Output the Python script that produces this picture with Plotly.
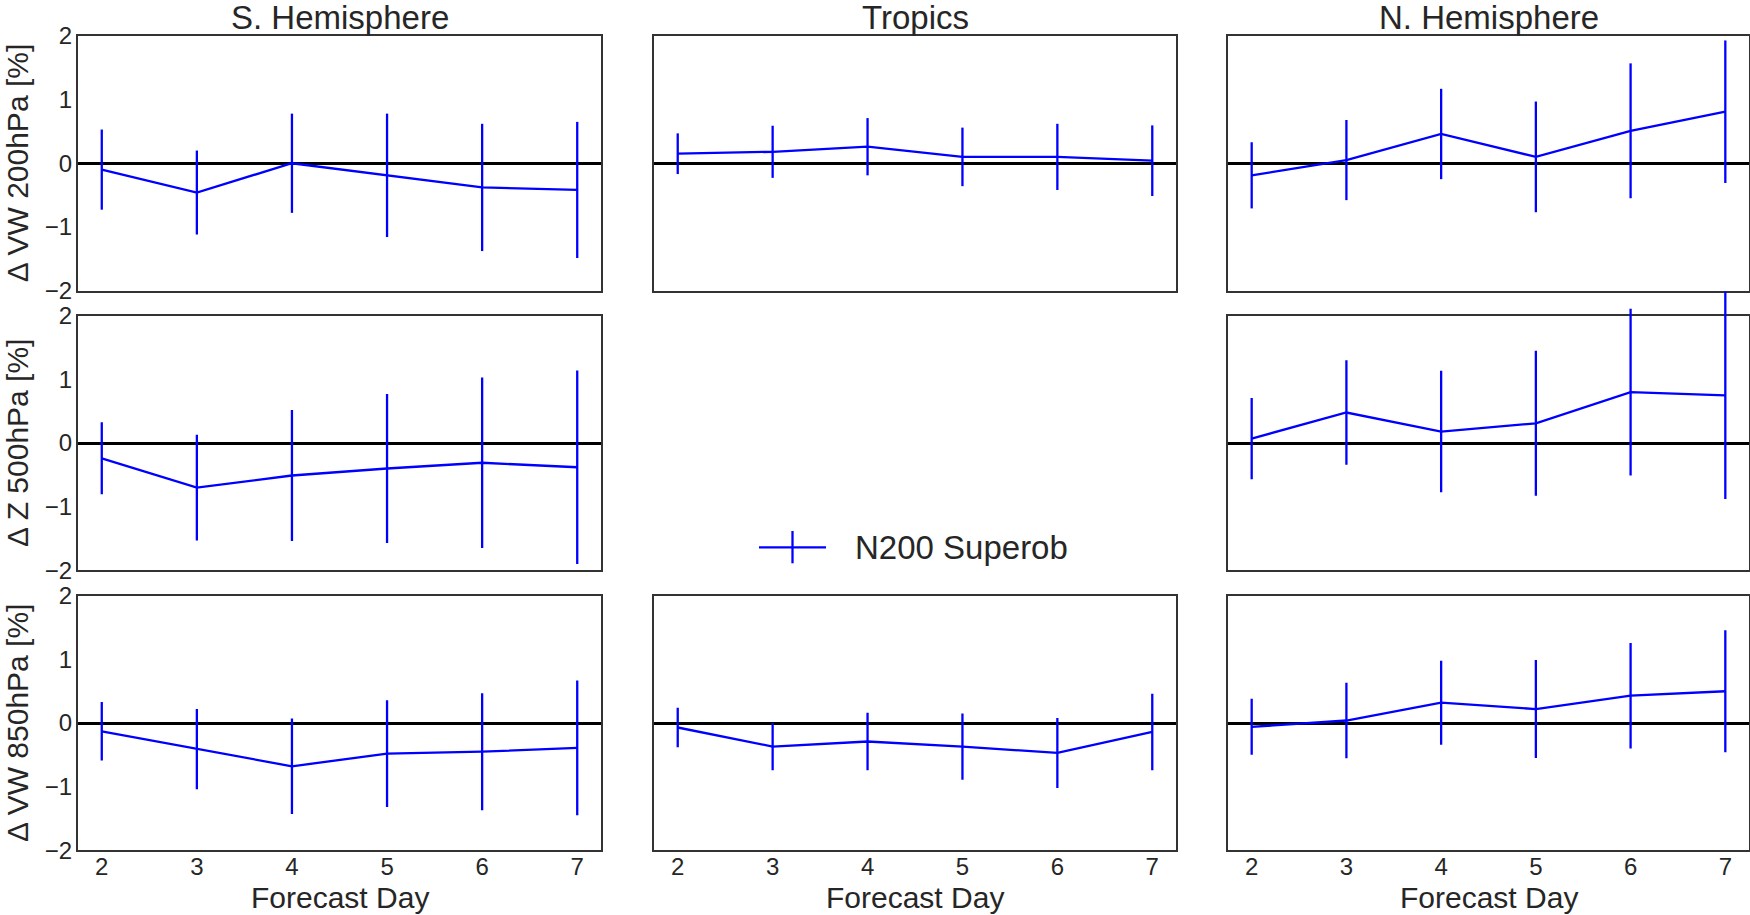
import plotly.graph_objects as go

# Forecast days on the x axis
days = [2, 3, 4, 5, 6, 7]
day_ticks = [2, 3, 4, 5, 6, 7]
pct_ticks = [-2, -1, 0, 1, 2]

# Relative change [%] and its uncertainty, per region and level
vw200_sh = [-0.10, -0.46, 0.00, -0.19, -0.38, -0.42]
vw200_sh_err = [0.63, 0.66, 0.78, 0.97, 1.00, 1.07]
vw200_tr = [0.15, 0.18, 0.26, 0.10, 0.10, 0.04]
vw200_tr_err = [0.32, 0.41, 0.45, 0.46, 0.52, 0.555]
vw200_nh = [-0.19, 0.05, 0.46, 0.10, 0.51, 0.81]
vw200_nh_err = [0.52, 0.63, 0.71, 0.87, 1.06, 1.12]

z500_sh = [-0.24, -0.70, -0.51, -0.40, -0.31, -0.38]
z500_sh_err = [0.565, 0.83, 1.03, 1.17, 1.34, 1.52]
z500_nh = [0.07, 0.48, 0.18, 0.31, 0.80, 0.75]
z500_nh_err = [0.64, 0.82, 0.955, 1.14, 1.31, 1.63]

vw850_sh = [-0.13, -0.41, -0.68, -0.48, -0.45, -0.39]
vw850_sh_err = [0.46, 0.63, 0.75, 0.84, 0.92, 1.06]
vw850_tr = [-0.07, -0.37, -0.29, -0.37, -0.47, -0.14]
vw850_tr_err = [0.31, 0.37, 0.45, 0.52, 0.55, 0.60]
vw850_nh = [-0.06, 0.04, 0.32, 0.22, 0.43, 0.50]
vw850_nh_err = [0.44, 0.595, 0.66, 0.77, 0.83, 0.96]

col_titles = ["S. Hemisphere", "Tropics", "N. Hemisphere"]
row_labels = ["Δ VW 200hPa [%]", "Δ Z 500hPa [%]", "Δ VW 850hPa [%]"]
x_label = "Forecast Day"
series_name = "N200 Superob"

# (row, col, values, errors); the Tropics Z500 panel is left out
panels = [
    (0, 0, vw200_sh, vw200_sh_err),
    (0, 1, vw200_tr, vw200_tr_err),
    (0, 2, vw200_nh, vw200_nh_err),
    (1, 0, z500_sh, z500_sh_err),
    (1, 2, z500_nh, z500_nh_err),
    (2, 0, vw850_sh, vw850_sh_err),
    (2, 1, vw850_tr, vw850_tr_err),
    (2, 2, vw850_nh, vw850_nh_err),
]

W, H = 1750, 915
# panel edges in pixels
col_px = [(78, 601), (654, 1176), (1228, 1749)]
row_px = [(36, 290.5), (315.8, 570.3), (595.8, 850.3)]
Y_RANGE = [-2, 2]
X_RANGE = [1.75, 7.25]
# error bars are allowed to run up to this many pixels above their panel
OVERHANG_PX = 40

FONT = "Liberation Sans, Arial, sans-serif"
TXT = "#262626"
EDGE = "#333333"
BLUE = "#0000ff"
LW = 2.3

fig = go.Figure()
layout = dict(
    template="none",
    width=W, height=H,
    margin=dict(l=0, r=0, t=0, b=0, pad=0),
    paper_bgcolor="white", plot_bgcolor="rgba(0,0,0,0)",
    showlegend=False,
    font=dict(family=FONT, color=TXT, size=24),
)

n = len(panels)
for k, (r, c, vals, errs) in enumerate(panels, start=1):
    xa = "x" if k == 1 else f"x{k}"
    ya = "y" if k == 1 else f"y{k}"
    x0, x1 = col_px[c]
    y0, y1 = row_px[r]

    # mean curve
    fig.add_trace(go.Scatter(
        x=days, y=vals, mode="lines", name=series_name,
        line=dict(color=BLUE, width=LW),
        xaxis=xa, yaxis=ya,
    ))

    layout["xaxis" if k == 1 else f"xaxis{k}"] = dict(
        domain=[x0 / W, x1 / W], anchor=ya,
        range=X_RANGE, tickvals=day_ticks,
        showticklabels=(r == 2), ticks="",
        showgrid=False, zeroline=False, automargin=False,
        showline=True, mirror=True, linecolor=EDGE, linewidth=2,
        tickfont=dict(size=24, color=TXT, family=FONT),
        ticklabelstandoff=-6,
    )
    layout["yaxis" if k == 1 else f"yaxis{k}"] = dict(
        domain=[1 - y1 / H, 1 - y0 / H], anchor=xa,
        range=Y_RANGE, tickvals=pct_ticks,
        showticklabels=(c == 0), ticks="",
        showgrid=False, automargin=False,
        zeroline=True, zerolinecolor="black", zerolinewidth=2.5,
        showline=True, mirror=True, linecolor=EDGE, linewidth=2,
        tickfont=dict(size=24, color=TXT, family=FONT),
        ticklabelstandoff=-1,
    )

    # error bars on a hidden twin axis with the same scale, extended
    # upward so that long bars are not cut at the panel frame
    j = k + n
    ext_px = min(OVERHANG_PX, y0)
    px_per_unit = (y1 - y0) / (Y_RANGE[1] - Y_RANGE[0])
    top_ext = Y_RANGE[1] + ext_px / px_per_unit
    fig.add_trace(go.Scatter(
        x=days, y=vals, mode="markers", name=series_name,
        marker=dict(size=0.1, opacity=0),
        error_y=dict(type="data", array=errs, visible=True,
                     color=BLUE, thickness=LW, width=0),
        xaxis=f"x{j}", yaxis=f"y{j}",
    ))
    layout[f"xaxis{j}"] = dict(
        domain=[x0 / W, x1 / W], anchor=f"y{j}", range=X_RANGE,
        visible=False, automargin=False,
    )
    layout[f"yaxis{j}"] = dict(
        domain=[1 - y1 / H, min(1.0, 1 - (y0 - ext_px) / H)], anchor=f"x{j}",
        range=[Y_RANGE[0], top_ext], visible=False, automargin=False,
    )

annotations = []
for c, title in enumerate(col_titles):
    x0, x1 = col_px[c]
    annotations.append(dict(
        text=title, xref="paper", yref="paper",
        x=(x0 + x1) / 2 / W, y=1 - 18 / H,
        xanchor="center", yanchor="middle", showarrow=False,
        font=dict(size=33, family=FONT, color=TXT),
    ))
    annotations.append(dict(
        text=x_label, xref="paper", yref="paper",
        x=(x0 + x1) / 2 / W, y=1 - 897 / H,
        xanchor="center", yanchor="middle", showarrow=False,
        font=dict(size=30, family=FONT, color=TXT),
    ))
for r, lab in enumerate(row_labels):
    y0, y1 = row_px[r]
    annotations.append(dict(
        text=lab, xref="paper", yref="paper",
        x=17 / W, y=1 - (y0 + y1) / 2 / H,
        xanchor="center", yanchor="middle", textangle=-90, showarrow=False,
        font=dict(size=30, family=FONT, color=TXT),
    ))

# legend key in the empty centre panel
leg_y = 1 - 547.3 / H
annotations.append(dict(
    text=series_name, xref="paper", yref="paper",
    x=853 / W, y=leg_y, xanchor="left", yanchor="middle", showarrow=False,
    font=dict(size=33, family=FONT, color=TXT),
))
shapes = [
    dict(type="line", xref="paper", yref="paper",
         x0=759 / W, x1=826 / W, y0=leg_y, y1=leg_y,
         line=dict(color=BLUE, width=LW)),
    dict(type="line", xref="paper", yref="paper",
         x0=792.5 / W, x1=792.5 / W, y0=1 - 531 / H, y1=1 - 563.3 / H,
         line=dict(color=BLUE, width=LW)),
]
layout["annotations"] = annotations
layout["shapes"] = shapes

fig.update_layout(**layout)
fig.write_html("out.html")
